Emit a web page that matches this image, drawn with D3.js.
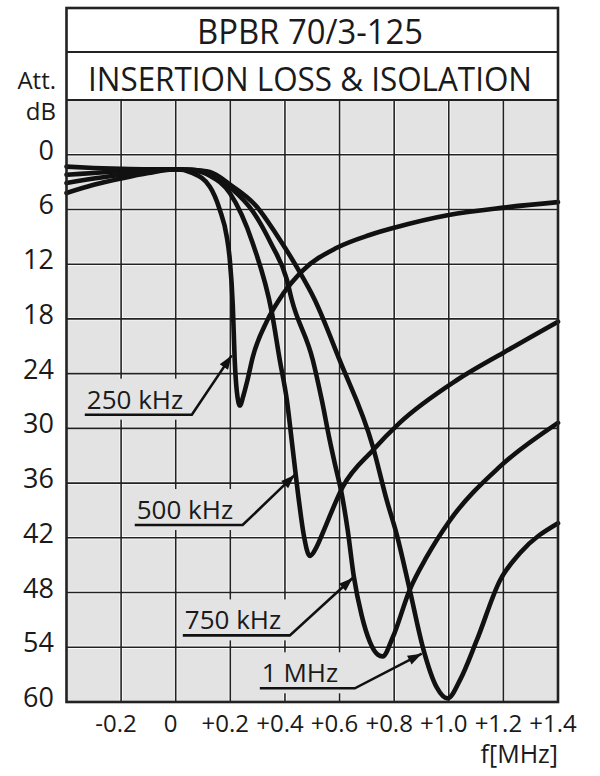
<!DOCTYPE html>
<html>
<head>
<meta charset="utf-8">
<script src="https://cdn.jsdelivr.net/npm/d3@7"></script>
<style>
  body { margin: 0; background: #fff; }
  text { font-family: "Open Sans", "Noto Sans", sans-serif; fill: #1a1a1a; }
</style>
</head>
<body>
<svg id="chart" width="600" height="776"></svg>
<script>
// Data (frequency offset in MHz, attenuation in dB)
var f250 = [-0.4, -0.3, -0.2, -0.1, 0, 0.06, 0.125, 0.161, 0.187, 0.198, 0.209, 0.216, 0.224, 0.235, 0.248, 0.262, 0.282, 0.333, 0.392, 0.465, 0.59, 0.71, 0.8, 1.0, 1.2, 1.4];
var a250 = [1.3, 1.45, 1.55, 1.6, 1.6, 2.0, 3.5, 6.0, 9.0, 11.5, 16.5, 22.5, 26.0, 27.5, 26.4, 24.8, 22.2, 18.3, 15.3, 12.7, 10.2, 8.8, 8.0, 6.6, 5.8, 5.2];

var f500 = [-0.4, -0.3, -0.2, -0.1, 0, 0.06, 0.125, 0.198, 0.282, 0.352, 0.381, 0.407, 0.429, 0.451, 0.469, 0.491, 0.516, 0.538, 0.612, 0.722, 0.82, 1.03, 1.2, 1.4];
var a500 = [2.2, 2.0, 1.8, 1.65, 1.6, 1.7, 2.3, 4.2, 9.7, 17.3, 22.5, 26.9, 32.4, 37.9, 41.7, 44.0, 43.0, 41.5, 36.4, 32.4, 29.4, 24.7, 21.7, 18.3];

var f750 = [-0.4, -0.3, -0.2, -0.1, 0, 0.06, 0.125, 0.2, 0.282, 0.35, 0.407, 0.425, 0.502, 0.535, 0.564, 0.586, 0.608, 0.63, 0.652, 0.681, 0.711, 0.74, 0.758, 0.795, 0.857, 0.919, 1.004, 1.187, 1.4];
var a750 = [3.1, 2.6, 2.2, 1.8, 1.6, 1.65, 2.0, 3.6, 6.2, 9.8, 13.7, 15.9, 22.5, 26.9, 31.3, 34.3, 37.2, 41.2, 46.2, 50.5, 53.4, 54.8, 55.0, 52.9, 47.7, 44.1, 40.1, 34.2, 29.4];

var f1000 = [-0.4, -0.3, -0.2, -0.1, 0, 0.06, 0.125, 0.2, 0.297, 0.37, 0.443, 0.509, 0.6, 0.722, 0.773, 0.81, 0.857, 0.905, 0.956, 0.996, 1.041, 1.103, 1.187, 1.26, 1.4];
var a1000 = [4.2, 3.3, 2.6, 2.0, 1.6, 1.65, 1.9, 3.3, 5.7, 8.8, 12.3, 15.9, 22.5, 32.0, 37.9, 41.7, 47.7, 54.0, 58.4, 59.6, 57.6, 53.2, 46.7, 43.7, 40.4];

var xTicks = [-0.2, 0, 0.2, 0.4, 0.6, 0.8, 1.0, 1.2, 1.4];
var xTickLabels = ["-0.2", "0", "+0.2", "+0.4", "+0.6", "+0.8", "+1.0", "+1.2", "+1.4"];
var yTicks = [0, 6, 12, 18, 24, 30, 36, 42, 48, 54, 60];

var seriesNames = ["250 kHz", "500 kHz", "750 kHz", "1 MHz"];
var seriesF = [f250, f500, f750, f1000];
var seriesA = [a250, a500, a750, a1000];

// Label annotations: underline (f0..f1 at att) and arrow tip (tf, ta), in data units
var labelPos = [
  {f0: -0.333, f1: 0.059, a: 28.5, tf: 0.205, ta: 22.0},
  {f0: -0.150, f1: 0.245, a: 40.6, tf: 0.436, ta: 35.1},
  {f0: 0.026, f1: 0.418, a: 52.7, tf: 0.648, ta: 46.4},
  {f0: 0.308, f1: 0.656, a: 58.5, tf: 0.901, ta: 54.7}
];

var svg = d3.select("#chart");
var pLeft = 66.5, pRight = 558, pTop = 100, pBottom = 702, boxTop = 8;

var x = d3.scaleLinear().domain([-0.4, 1.4]).range([pLeft, pRight]);
var y = d3.scaleLinear().domain([-6, 60]).range([pTop, pBottom]);

// plot background
svg.append("rect").attr("x", pLeft).attr("y", pTop).attr("width", pRight - pLeft).attr("height", pBottom - pTop)
  .attr("fill", "#e3e3e3");

// grid
var grid = svg.append("g");
var vx = xTicks.slice(0, -1);
var hy = yTicks.slice(0, -1);
[["#fafafa", 3.4], ["#222", 1.6]].forEach(function(s) {
  grid.selectAll(null).data(vx).enter().append("line")
    .attr("x1", function(d) { return x(d); }).attr("x2", function(d) { return x(d); })
    .attr("y1", pTop).attr("y2", pBottom).attr("stroke", s[0]).attr("stroke-width", s[1]);
  grid.selectAll(null).data(hy).enter().append("line")
    .attr("y1", function(d) { return y(d); }).attr("y2", function(d) { return y(d); })
    .attr("x1", pLeft).attr("x2", pRight).attr("stroke", s[0]).attr("stroke-width", s[1]);
});

// label background patches (mask the grid)
svg.append("g").selectAll("rect").data(labelPos).enter().append("rect")
  .attr("x", function(d) { return x(d.f0) - 5; })
  .attr("y", function(d) { return y(d.a) - 36; })
  .attr("width", function(d) { return x(d.f1) - x(d.f0) + 10; })
  .attr("height", 41)
  .attr("fill", "#e3e3e3");

// curves
var line = d3.line().x(function(d) { return x(d[0]); }).y(function(d) { return y(d[1]); })
  .curve(d3.curveMonotoneX);
svg.append("g").selectAll("path").data(seriesF).enter().append("path")
  .attr("d", function(fs, i) { return line(fs.map(function(f, j) { return [f, seriesA[i][j]]; })); })
  .attr("fill", "none").attr("stroke", "#111").attr("stroke-width", 4.6)
  .attr("stroke-linecap", "round").attr("stroke-linejoin", "round");

// labels with underline and arrow
var ann = svg.append("g");
labelPos.forEach(function(d, i) {
  var ux0 = x(d.f0), ux1 = x(d.f1), uy = y(d.a), tx = x(d.tf), ty = y(d.ta);
  ann.append("text").attr("x", ux0 + 2).attr("y", uy - 6).attr("font-size", 26).text(seriesNames[i]);
  ann.append("polyline").attr("points", [[ux0, uy], [ux1, uy], [tx, ty]].join(" "))
    .attr("fill", "none").attr("stroke", "#111").attr("stroke-width", 2.6);
  var ang = Math.atan2(ty - uy, tx - ux1);
  var len = 14, w = 5;
  var bx = tx - len * Math.cos(ang), by = ty - len * Math.sin(ang);
  var p1 = [bx + w * Math.sin(ang), by - w * Math.cos(ang)];
  var p2 = [bx - w * Math.sin(ang), by + w * Math.cos(ang)];
  ann.append("polygon").attr("points", [[tx, ty], p1, p2].join(" ")).attr("fill", "#111");
});

// frame and header boxes
svg.append("rect").attr("x", pLeft).attr("y", boxTop).attr("width", pRight - pLeft).attr("height", pBottom - boxTop)
  .attr("fill", "none").attr("stroke", "#222").attr("stroke-width", 2.6);
svg.append("line").attr("x1", pLeft).attr("x2", pRight).attr("y1", 52).attr("y2", 52).attr("stroke", "#222").attr("stroke-width", 2.2);
svg.append("line").attr("x1", pLeft).attr("x2", pRight).attr("y1", pTop).attr("y2", pTop).attr("stroke", "#222").attr("stroke-width", 2.2);

svg.append("text").attr("x", 310).attr("y", 44).attr("text-anchor", "middle").attr("font-size", 35)
  .attr("textLength", 226).attr("lengthAdjust", "spacingAndGlyphs").text("BPBR 70/3-125");
svg.append("text").attr("x", 310).attr("y", 91).attr("text-anchor", "middle").attr("font-size", 32)
  .attr("textLength", 444).attr("lengthAdjust", "spacingAndGlyphs").text("INSERTION LOSS & ISOLATION");

// axis titles
svg.append("text").attr("x", 56).attr("y", 89).attr("text-anchor", "end").attr("font-size", 24).text("Att.");
svg.append("text").attr("x", 56).attr("y", 120).attr("text-anchor", "end").attr("font-size", 24).text("dB");
svg.append("text").attr("x", 558).attr("y", 763).attr("text-anchor", "end").attr("font-size", 25).text("f[MHz]");

// tick labels
svg.append("g").selectAll("text").data(yTicks).enter().append("text")
  .attr("x", 54).attr("y", function(d) { return y(d) + 5; })
  .attr("text-anchor", "end").attr("font-size", 27).text(function(d) { return d; });
svg.append("g").selectAll("text").data(xTicks).enter().append("text")
  .attr("x", function(d) { return x(d) - 5; }).attr("y", 732)
  .attr("text-anchor", "middle").attr("font-size", 24).text(function(d, i) { return xTickLabels[i]; });
</script>
</body>
</html>
